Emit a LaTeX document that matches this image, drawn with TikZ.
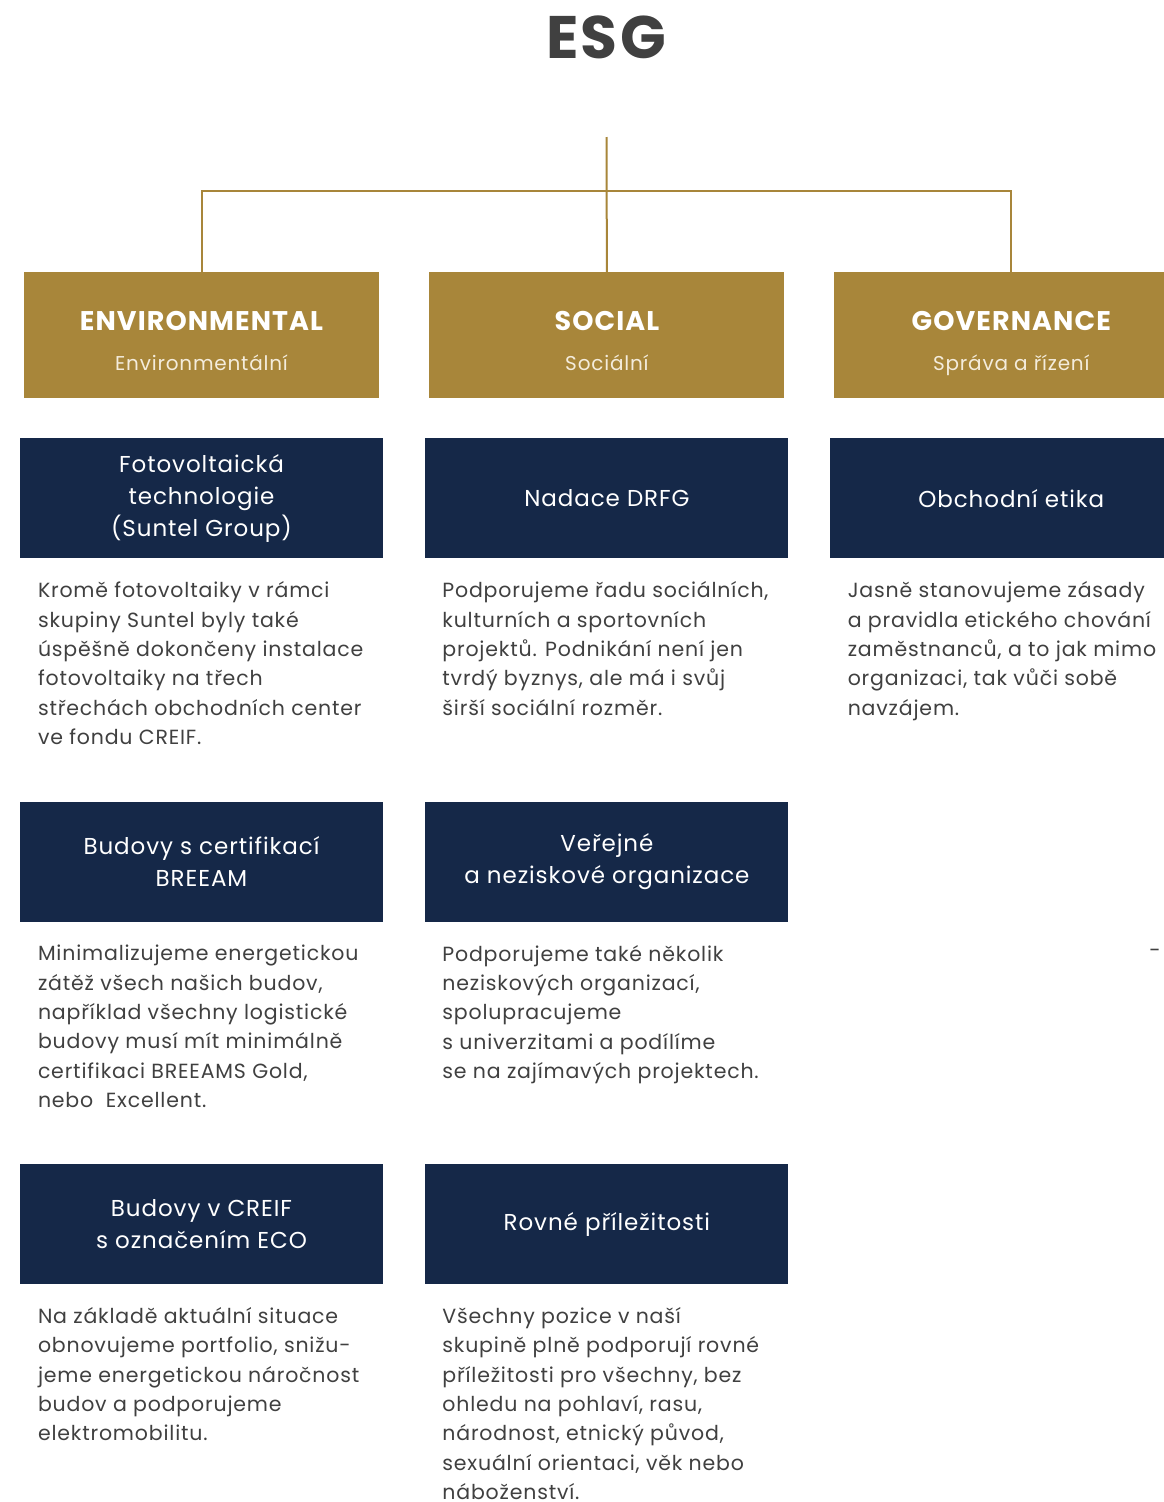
\documentclass[tikz,border=0pt]{standalone}
\usepackage{fontspec}
\setmainfont{Poppins}[LetterSpace=4]
\usetikzlibrary{positioning}
\definecolor{esggold}{HTML}{A8863A}
\definecolor{esgnavy}{HTML}{152848}
\definecolor{esggray}{HTML}{404040}
\definecolor{esgcream}{HTML}{F4ECDC}
\tikzset{
    pillar/.style={fill=esggold, minimum width=355, minimum height=126, inner sep=0},
    pillarhead/.style={anchor=base, inner sep=0, text=white,
                       font=\fontsize{27}{34}\selectfont\bfseries},
    pillarsub/.style={anchor=base, inner sep=0, text=esgcream,
                      font=\fontsize{20}{26}\selectfont},
    topic/.style={fill=esgnavy, minimum width=363, minimum height=120, inner sep=0,
                  text=white, align=center, font=\fontsize{23}{32}\selectfont},
    blurb/.style={inner sep=0, align=left, text=esggray,
                  font=\fontsize{20.5}{29.3}\selectfont},
    link/.style={draw=esggold, line width=2}
}

\begin{document}
\begin{tikzpicture}[x=1pt, y=1pt,
                    node distance=40,
                    ]
  \fill[white] (0,0) rectangle (1164,-1502);
  \useasboundingbox (0,0) rectangle (1164,-1502);
  \clip (0,0) rectangle (1164,-1502);

  \node[text=esggray, font=\fontsize{60}{70}\selectfont\bfseries] (esg) at (606,-37) {ESG};

  % pillars
  \node[pillar] (env) at (201.5,-335) {};
  \node[pillar] (soc) [right=50 of env] {};
  \node[pillar] (gov) [right=49 of soc] {};
  \node[pillarhead] (envhead) at ([yshift=5]env.center) {ENVIRONMENTAL};
  \node[pillarsub] (envsub) at ([yshift=-35]env.center) {Environmentální};
  \node[pillarhead] (sochead) at ([yshift=5]soc.center) {SOCIAL};
  \node[pillarsub] (socsub) at ([yshift=-35]soc.center) {Sociální};
  \node[pillarhead] (govhead) at ([yshift=5]gov.center) {GOVERNANCE};
  \node[pillarsub] (govsub) at ([yshift=-35]gov.center) {Správa a řízení};

  \coordinate (root) at (606.5,-137);
  \coordinate (hub) at (606.5,-191);
  \draw[link] (root) -- (soc.north);
  \draw[link] (hub) -| (env.north);
  \draw[link] (hub) -| (gov.north);

  % first row
  \node[topic] (foto) [below=of env] {Fotovoltaická\\technologie\\(Suntel Group)};
  \node[topic] (nadace) [below=of soc] {Nadace DRFG};
  \node[topic] (etika) [below=of gov] {Obchodní etika};

  \node[blurb, below right=23 and 18 of foto.south west] (fototxt)
    {Kromě fotovoltaiky v rámci\\skupiny Suntel byly také\\úspěšně dokončeny instalace\\fotovoltaiky na třech\\střechách obchodních center\\ve fondu CREIF.};
  \node[blurb, below right=23 and 17 of nadace.south west] (nadacetxt)
    {Podporujeme řadu sociálních,\\kulturních a sportovních\\projektů. Podnikání není jen\\tvrdý byznys, ale má i svůj\\širší sociální rozměr.};
  \node[blurb, below right=23 and 18 of etika.south west] (etikatxt)
    {Jasně stanovujeme zásady\\a pravidla etického chování\\zaměstnanců, a to jak mimo\\organizaci, tak vůči sobě\\navzájem.};

  % second row
  \node[topic] (breeam) [below=243 of foto] {Budovy s certifikací\\BREEAM};
  \node[topic] (verejne) [below=243 of nadace] {Veřejné\\a neziskové organizace};

  \node[blurb, below right=23 and 18 of breeam.south west] (breeamtxt)
    {Minimalizujeme energetickou\\zátěž všech našich budov,\\například všechny logistické\\budovy musí mít minimálně\\certifikaci BREEAMS Gold,\\nebo\ \ Excellent.};
  \node[blurb, below right=23 and 17 of verejne.south west] (verejnetxt)
    {Podporujeme také několik\\neziskových organizací,\\spolupracujeme\\s univerzitami a podílíme\\se na zajímavých projektech.};
  \node[blurb] (dash) at (1155,-953) {-};

  % third row
  \node[topic] (eco) [below=242 of breeam] {Budovy v CREIF\\s označením ECO};
  \node[topic] (rovne) [below=242 of verejne] {Rovné příležitosti};

  \node[blurb, below right=23 and 18 of eco.south west] (ecotxt)
    {Na základě aktuální situace\\obnovujeme portfolio, snižu-\\jeme energetickou náročnost\\budov a podporujeme\\elektromobilitu.};
  \node[blurb, below right=23 and 17 of rovne.south west] (rovnetxt)
    {Všechny pozice v naší\\skupině plně podporují rovné\\příležitosti pro všechny, bez\\ohledu na pohlaví, rasu,\\národnost, etnický původ,\\sexuální orientaci, věk nebo\\náboženství.};
\end{tikzpicture}
\end{document}
